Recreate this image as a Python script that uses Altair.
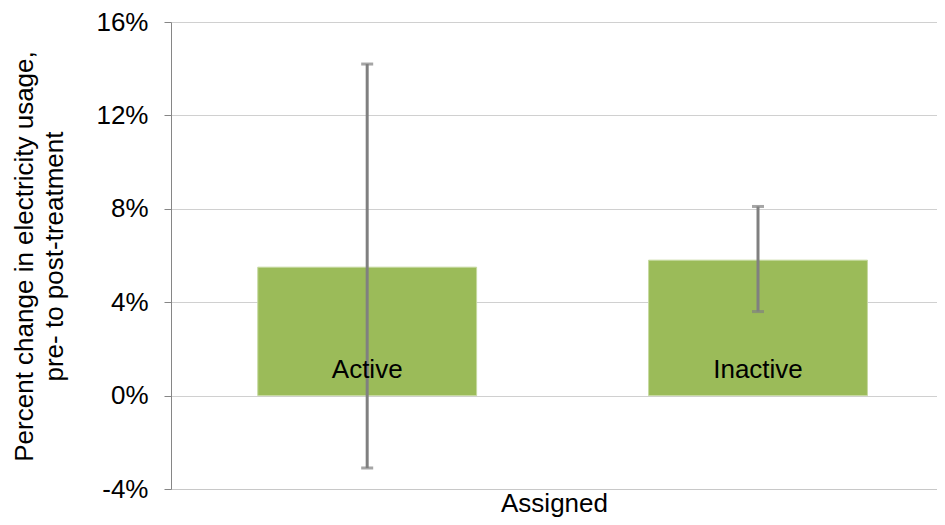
import altair as alt
import pandas as pd

groups = ["Active", "Inactive"]
means = [0.055, 0.058]
lows = [-0.031, 0.036]
highs = [0.142, 0.081]

df = pd.DataFrame({"group": groups, "mean": means, "low": lows, "high": highs})

FONT = "Liberation Sans"
FS = 26

xenc = alt.X(
    "group:N",
    sort=groups,
    scale=alt.Scale(paddingInner=0.44, paddingOuter=0.2, align=0.555),
    axis=alt.Axis(
        title="Assigned", labels=False, ticks=False, grid=False,
        domainColor="#C8C8C8", domainWidth=1,
        titleFont=FONT, titleFontSize=FS, titleFontWeight="normal",
        titleColor="black", titlePadding=1,
    ),
)

yscale = alt.Scale(domain=[-0.04, 0.16], nice=False, zero=False)

base = alt.Chart(df)

bars = base.mark_bar(color="#9BBB59", stroke="#C6D9A0", strokeWidth=1).encode(
    x=xenc,
    y=alt.Y(
        "mean:Q",
        scale=yscale,
        axis=alt.Axis(
            format=".0%",
            values=[-0.04, 0, 0.04, 0.08, 0.12, 0.16],
            labelExpr="replace(datum.label, '\u2212', '-')",
            labelFont=FONT, labelFontSize=FS, labelColor="black", labelPadding=16,
            tickSize=7, tickColor="#868686", domainColor="#868686",
            gridColor="#D0D0D0", gridWidth=1,
            title=["Percent change in electricity usage,", "pre- to post-treatment"],
            titleFont=FONT, titleFontSize=FS, titleFontWeight="normal",
            titleColor="black", titleLineHeight=30,
            titleAngle=-90, titleBaseline="top", titleAlign="center",
            titleX=-160, titleY=234,
        ),
    ),
)

rules = base.mark_rule(color="#808080", strokeWidth=3).encode(
    x=alt.X("group:N", sort=groups),
    y=alt.Y("low:Q", scale=yscale),
    y2="high:Q",
)

caps_hi = base.mark_tick(color="#808080", thickness=3, size=12, orient="horizontal").encode(
    x=alt.X("group:N", sort=groups),
    y=alt.Y("high:Q", scale=yscale),
)
caps_lo = base.mark_tick(color="#808080", thickness=3, size=12, orient="horizontal").encode(
    x=alt.X("group:N", sort=groups),
    y=alt.Y("low:Q", scale=yscale),
)

labels = base.mark_text(font=FONT, fontSize=FS, color="black", baseline="middle").encode(
    x=alt.X("group:N", sort=groups),
    y=alt.datum(0.011),
    text="group:N",
)

chart = (
    alt.layer(bars, rules, caps_hi, caps_lo, labels)
    .properties(
        width=766,
        height=467,
        autosize=alt.AutoSizeParams(type="none"),
        padding={"left": 163, "top": 14, "right": 0, "bottom": 28},
        background="white",
    )
    .configure_view(stroke=None)
)

chart.save("out.html", embed_options={"renderer": "svg", "actions": False})
